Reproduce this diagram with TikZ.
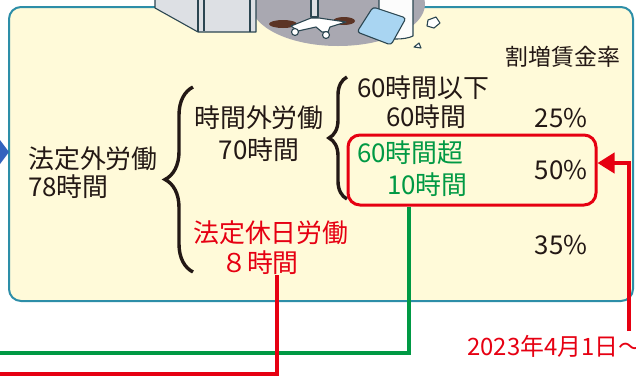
\documentclass[tikz,border=0pt]{standalone}
\usepackage{fontspec}
\setmainfont{Noto Sans CJK JP}
\usepackage{tikz}
\usetikzlibrary{arrows.meta,decorations.pathreplacing}

\definecolor{panelfill}{HTML}{FFFAD9}
\definecolor{panelline}{HTML}{2D8EA8}
\definecolor{ovred}{HTML}{E60012}
\definecolor{ovgreen}{HTML}{009944}
\definecolor{ink}{HTML}{231815}
\definecolor{floorgray}{HTML}{A9A8B1}
\definecolor{deskgray}{HTML}{DDE0E4}
\definecolor{outline}{HTML}{2B4651}
\definecolor{clipblue}{HTML}{A9D5F2}
\definecolor{rugbrown}{HTML}{5C3425}
\definecolor{arrowblue}{HTML}{3463BE}

\begin{document}
\begin{tikzpicture}[
  x=1bp, y=-1bp,
  font=\fontsize{26}{30}\selectfont,
  txt/.style={text=ink, inner sep=0pt},
  lbl/.style={txt, anchor=west},
  brc/.style={decorate, decoration={brace, amplitude=#1}, line width=3.4bp, draw=ink},
  lead/.style={line width=4bp},
  scene/.style={draw=outline, line width=1.1bp, line join=round}
]
\useasboundingbox (0,0) rectangle (636,378);

% Panel and incoming arrow
\draw[panelline, fill=panelfill, line width=2bp, rounded corners=12bp] (9,7) rectangle (633,301);
\fill[arrowblue] (0,140) -- (9,152) -- (0,164) -- cycle;

% Office corner over the top edge
\fill[floorgray] (338,4) ellipse [x radius=87, y radius=42];
\filldraw[scene, fill=deskgray] (155,-3) -- (155,8) -- (198,32) -- (256,32) -- (256,-3) -- cycle;
\draw[scene] (198,-3) -- (198,32);
\draw[scene] (204,-3) -- (204,31);
\draw[scene] (250,-3) -- (250,32);
\fill[rugbrown] (283,24) ellipse [x radius=14, y radius=4];
\fill[rugbrown] (344,21) ellipse [x radius=11, y radius=4];
\filldraw[scene, fill=deskgray] (311,-3) rectangle (318,17);
\filldraw[scene, fill=white] (291,26) -- (311,18) -- (319,18) -- (346,22) -- (330,27) -- (328,32) -- (322,32) -- (316,27) -- (298,31) -- cycle;
\filldraw[scene, fill=white] (295,32) circle (3.5);
\filldraw[scene, fill=white] (326,35) circle (3.5);
\filldraw[scene, fill=white!90!deskgray] (379,-3) -- (379,36) .. controls (388,40) and (405,40) .. (413,36) -- (413,-3) -- cycle;
\filldraw[scene, fill=clipblue, rounded corners=3bp] (357,32) -- (373,7) -- (406,18) -- (391,45) -- cycle;
\filldraw[scene, fill=white] (428,20) -- (436,17) -- (440,23) -- (434,28) -- (427,26) -- cycle;
\filldraw[scene, fill=white] (414,47) -- (419,43) -- (421,48) -- cycle;

% Hours breakdown
\node[lbl] (extra) at (28,159) {法定外労働};
\node[lbl] (extrah) at (28,187) {78時間};
\draw[brc=28bp] (193,272) -- (193,87);

\node[txt] (ot) at (259,118) {時間外労働};
\node[txt] (oth) at (259,150) {70時間};
\node[lbl, text=ovred] (hol) at (193,233) {法定休日労働};
\node[txt, text=ovred] (holh) at (260,263) {８時間};
\draw[brc=18bp] (347,199) -- (347,77);

\node[lbl] (le60) at (357,88) {60時間以下};
\node[lbl] (le60h) at (386,117) {60時間};
\node[lbl, text=ovgreen] (gt60) at (357,153) {60時間超};
\node[lbl, text=ovgreen] (gt60h) at (387,185) {10時間};
\node[draw=ovred, line width=3bp, rounded corners=12bp, minimum width=248bp, minimum height=70bp] (over60) at (472,170) {};

% Premium rates
\node[txt, font=\fontsize{23}{27}\selectfont] (hdr) at (563,57) {割増賃金率};
\node[txt] (r25) at (561,118) {25\%};
\node[txt] (r50) at (561,170) {50\%};
\node[txt] (r35) at (561,245) {35\%};

% Leads out of the panel
\coordinate (greenend) at (0,353);
\coordinate (redend) at (0,374);
\coordinate (datetop) at (629,331);
\draw[lead, ovgreen] ([xshift=-63bp]over60.south) |- (greenend);
\draw[lead, ovred] ([xshift=17bp]holh.south) |- (redend);
\node[lbl, text=ovred, font=\fontsize{24}{28}\selectfont] (date) at (467,346) {2023年4月1日～};
\draw[lead, ovred, -{Triangle[length=17bp,width=20bp]}] (datetop) |- ([yshift=7bp]over60.east);

\end{tikzpicture}
\end{document}
